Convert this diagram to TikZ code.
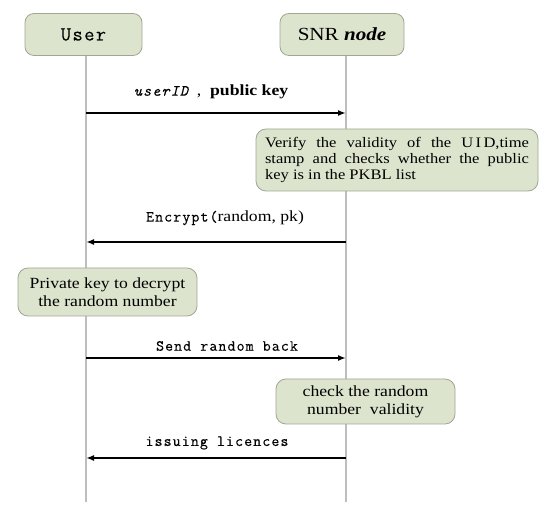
\documentclass[tikz,border=0pt]{standalone}
\usepackage{fontspec}
\setmainfont[FakeStretch=1.14]{Liberation Serif}
\setmonofont[LetterSpace=7,FakeBold=0.25]{Latin Modern Mono}
\usetikzlibrary{arrows.meta}
\definecolor{boxfill}{RGB}{221,228,206}
\definecolor{boxline}{RGB}{160,166,146}
\definecolor{lifeline}{RGB}{190,190,190}
\tikzset{
  actorbox/.style={draw=boxline, fill=boxfill, rounded corners=9pt, line width=0.8pt, inner sep=0pt, minimum height=42pt},
  notebox/.style={draw=boxline, fill=boxfill, rounded corners=10pt, line width=0.8pt, inner sep=0pt},
  lifeln/.style={draw=lifeline, line width=1.1pt},
  msg/.style={draw=black, line width=2.2pt, -{Latex[length=8pt,width=6pt]}},
  msglabel/.style={inner sep=0pt, font=\fontsize{15.5}{17}\selectfont},
}
\begin{document}
\begin{tikzpicture}[x=1pt,y=-1pt]
\useasboundingbox (0,0) rectangle (550,513);
% lifelines
\coordinate (ut) at (86,50);
\coordinate (ub) at (86,502);
\coordinate (st) at (346,50);
\coordinate (sb) at (346,502);
\draw[lifeln] (ut) -- (ub);
\draw[lifeln] (st) -- (sb);
% actors
\node[actorbox, minimum width=117pt, font=\ttfamily\fontsize{20}{22}\selectfont] (user) at (83.5,34.5) {User};
\node[actorbox, minimum width=124pt, font=\fontsize{18.5}{22}\selectfont] (snr) at (342,34.5) {SNR \textbf{\textit{node}}};
% notes
\node[notebox, minimum width=282pt, minimum height=62pt] (verify) at (397,160)
  {\begin{minipage}{264pt}\fontsize{14.5}{15.6}\selectfont
   Verify the validity of the U\,I\,D,time\linebreak stamp and checks whether the public\linebreak key is in the PKBL list\end{minipage}};
\node[notebox, minimum width=179pt, minimum height=48pt, align=center, font=\fontsize{15.5}{18}\selectfont] (private) at (107.5,292)
  {Private key to decrypt\\the random number};
\node[notebox, minimum width=179pt, minimum height=45pt, align=center, font=\fontsize{15.5}{18}\selectfont] (check) at (365.5,401.5)
  {check the random\\number\ \ validity};
% message anchors
\coordinate (u1) at (86,113);  \coordinate (s1) at (346,113);
\coordinate (u2) at (86,242);  \coordinate (s2) at (346,242);
\coordinate (u3) at (86,358);  \coordinate (s3) at (346,358);
\coordinate (u4) at (86,458);  \coordinate (s4) at (346,458);
\draw[msg] (u1) -- (s1);
\draw[msg] (s2) -- (u2);
\draw[msg] (u3) -- (s3);
\draw[msg] (s4) -- (u4);
% labels
\node[msglabel] (l1) at (211,92) {{\ttfamily\itshape userID}\ \ ,\ \ \textbf{public key}};
\node[msglabel] (l2) at (225,218) {{\ttfamily Encrypt(}random, pk)};
\node[msglabel] (l3) at (227,346) {\ttfamily Send random back};
\node[msglabel] (l4) at (217,443) {\ttfamily issuing licences};
\end{tikzpicture}
\end{document}
